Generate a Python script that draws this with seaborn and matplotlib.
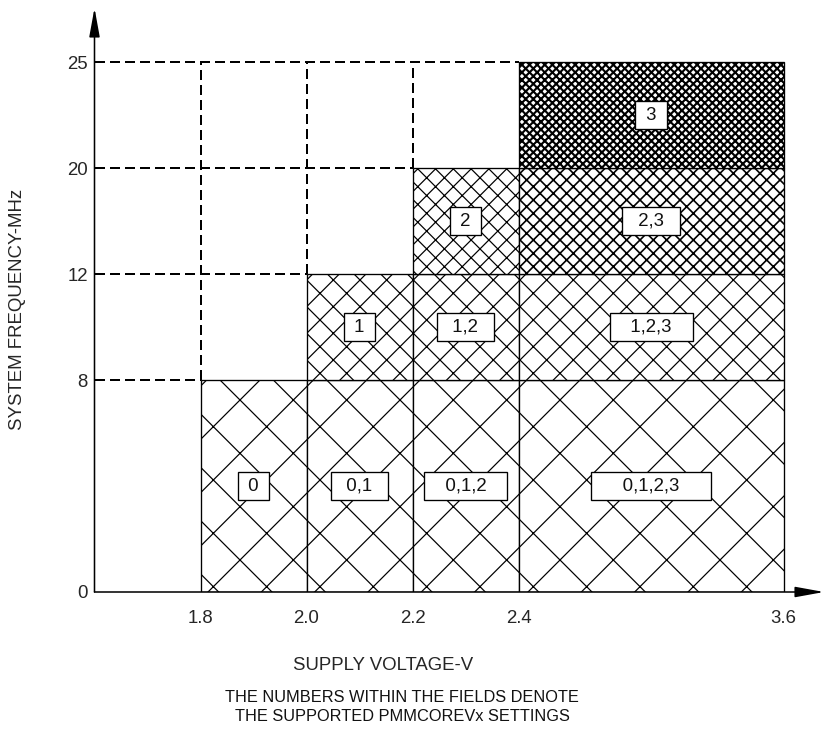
import numpy as np
import matplotlib
matplotlib.use("Agg")
import matplotlib.pyplot as plt
from matplotlib import font_manager
import seaborn as sns

# ---------------------------------------------------------------------------
# operating fields (supply voltage span x system frequency span)
# and the PMMCOREVx settings that are supported inside each field
# ---------------------------------------------------------------------------
field_v_lo = [1.8, 2.0, 2.2, 2.4, 2.0, 2.2, 2.4, 2.2, 2.4, 2.4]
field_v_hi = [2.0, 2.2, 2.4, 3.6, 2.2, 2.4, 3.6, 2.4, 3.6, 3.6]
field_f_lo = [0, 0, 0, 0, 8, 8, 8, 12, 12, 20]
field_f_hi = [8, 8, 8, 8, 12, 12, 12, 20, 20, 25]
field_labels = ["0", "0,1", "0,1,2", "0,1,2,3",
                "1", "1,2", "1,2,3",
                "2", "2,3",
                "3"]

# minimum supply voltage needed for each max system frequency
min_voltage = [1.8, 2.0, 2.2, 2.4]
max_freq = [8, 12, 20, 25]

volt_ticks = [1.8, 2.0, 2.2, 2.4, 3.6]
volt_labels = ["1.8", "2.0", "2.2", "2.4", "3.6"]
freq_ticks = [0, 8, 12, 20, 25]
freq_labels = ["0", "8", "12", "20", "25"]

x_title = "SUPPLY VOLTAGE-V"
y_title = "SYSTEM FREQUENCY-MHz"
note_lines = ["THE NUMBERS WITHIN THE FIELDS DENOTE",
              "THE SUPPORTED PMMCOREVx SETTINGS"]

# hatch density per field (denser = higher core voltage setting)
hatch_style = {"0": "x", "0,1": "x", "0,1,2": "x", "0,1,2,3": "x",
               "1": "xx", "1,2": "xx", "1,2,3": "xx",
               "2": "xxx", "2,3": "xxxx", "3": "xxxxxxx"}
hatch_lw = {"2,3": 0.75, "3": 0.95}

# piecewise-linear axis scales (datasheet style, not to scale)
VX_KNOTS = [1.6, 2.4, 3.6, 6.0]
PX_KNOTS = [0.0, 4.0, 6.5, 11.5]
FY_KNOTS = [0, 8, 12, 20, 25, 30]
PY_KNOTS = [0, 2, 3, 4, 5, 6]

DPI = 160
FS = 8.4
LINE_K = "black"

sns.set_style("white")
plt.rcParams['font.family'] = ['Liberation Sans', 'DejaVu Sans']
plt.rcParams['hatch.linewidth'] = 0.55
plt.rcParams['text.color'] = '#111111'

# the footnote is set in a condensed face when one is available
installed = {f.name for f in font_manager.fontManager.ttflist}
if 'Liberation Sans Narrow' in installed:
    note_font, note_fs = 'Liberation Sans Narrow', 8.6
else:
    note_font, note_fs = 'Liberation Sans', 7.4

fig = plt.figure(figsize=(821 / DPI, 735 / DPI), dpi=DPI)
ax = fig.add_axes([94.5 / 821, 143 / 735, 729.5 / 821, 584 / 735])

ax.set_xscale('function', functions=(lambda v: np.interp(v, VX_KNOTS, PX_KNOTS),
                                     lambda p: np.interp(p, PX_KNOTS, VX_KNOTS)))
ax.set_yscale('function', functions=(lambda f: np.interp(f, FY_KNOTS, PY_KNOTS),
                                     lambda p: np.interp(p, PY_KNOTS, FY_KNOTS)))
ax.set_xlim(1.6, 3.783)
ax.set_ylim(0, 27.55)

# --- hatched fields ---
v_lo = np.array(field_v_lo)
v_hi = np.array(field_v_hi)
f_lo = np.array(field_f_lo)
f_hi = np.array(field_f_hi)
bars = ax.bar(v_lo, f_hi - f_lo, width=v_hi - v_lo, bottom=f_lo, align='edge',
              color='white', edgecolor=LINE_K, linewidth=0.6, zorder=2)
for patch, lab in zip(bars.patches, field_labels):
    patch.set_hatch(hatch_style[lab])
    if lab in hatch_lw and hasattr(patch, 'set_hatch_linewidth'):
        patch.set_hatch_linewidth(hatch_lw[lab])
    elif lab == "3":
        patch.set_facecolor('#777777')

# --- boxed setting labels in the middle of each field ---
for lo, hi, flo, fhi, lab in zip(v_lo, v_hi, f_lo, f_hi, field_labels):
    n_dig = len(lab.split(","))
    pad = " " * int(round(1.4 * n_dig - 0.8))
    ax.text((lo + hi) / 2, (flo + fhi) / 2, pad + lab + pad,
            ha='center', va='center', fontsize=FS, zorder=5,
            bbox=dict(boxstyle='square,pad=0.3', fc='white', ec=LINE_K, lw=0.6))

# --- dashed guide lines ---
x0 = ax.get_xlim()[0]
f_top = max(max_freq)
for v, f in zip(min_voltage, max_freq):
    ax.plot([x0, v], [f, f], color=LINE_K, lw=0.9, ls=(0, (5, 2.5)), zorder=3)
    if f < f_top:
        ax.plot([v, v], [f, f_top], color=LINE_K, lw=0.9, ls=(0, (5, 2.5)), zorder=3)

# --- axes with arrow heads ---
sns.despine(ax=ax, left=True, bottom=True)
arrow = dict(arrowstyle='-|>,head_length=1.1,head_width=0.2', color=LINE_K,
             lw=0.7, shrinkA=0, shrinkB=0, mutation_scale=10)
ax.annotate('', xy=(1, 0), xytext=(0, 0), xycoords='axes fraction',
            textcoords='axes fraction', arrowprops=arrow, zorder=6, annotation_clip=False)
ax.annotate('', xy=(0, 1), xytext=(0, 0), xycoords='axes fraction',
            textcoords='axes fraction', arrowprops=arrow, zorder=6, annotation_clip=False)

ax.set_xticks(volt_ticks, volt_labels)
ax.set_yticks(freq_ticks, freq_labels)
ax.minorticks_off()
ax.tick_params(axis='x', length=0, pad=8.1, labelsize=FS)
ax.tick_params(axis='y', length=1.4, width=0.7, pad=1.6, labelsize=FS, color=LINE_K)
ax.grid(False)

ax.set_xlabel(x_title, fontsize=FS)
ax.xaxis.set_label_coords((383 - 94.5) / 729.5, -0.1113)
ax.set_ylabel(y_title, fontsize=FS)
ax.yaxis.set_label_coords(-0.0945, 0.4838)

fig.text(402 / 821, 1 - 690 / 735, note_lines[0], ha='center', va='top',
         fontsize=note_fs, family=[note_font, 'DejaVu Sans'])
fig.text(402 / 821, 1 - 709 / 735, note_lines[1], ha='center', va='top',
         fontsize=note_fs, family=[note_font, 'DejaVu Sans'])

fig.savefig("out.png", dpi=DPI)
plt.close(fig)
